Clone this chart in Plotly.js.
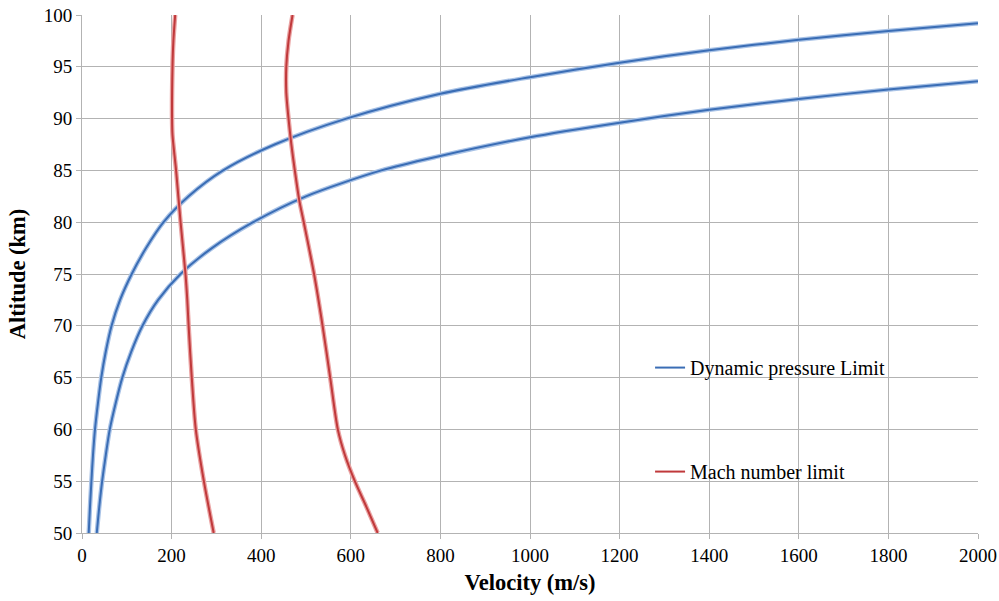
<!DOCTYPE html>
<html>
<head>
<meta charset="utf-8">
<script src="https://cdn.plot.ly/plotly-3.0.1.min.js"></script>
<style>
html,body{margin:0;padding:0;background:#fff;}
#chart{width:999px;height:601px;}
#chart .xtick text, #chart .ytick text {font-family: "Liberation Serif", serif !important;}
</style>
</head>
<body>
<div id="chart"></div>
<script>
// Dynamic pressure limit, curve 1 (upper/left)
const dp1Velocity = [15, 17.8, 21, 24.5, 29, 35.5, 43, 53, 66, 85, 111, 143, 182, 238, 315, 430, 590, 800, 1000, 1200, 1400, 1600, 1800, 2000];
const dp1Altitude = [50, 52.5, 55, 57.5, 60, 62.5, 65, 67.5, 70, 72.5, 75, 77.5, 80, 82.5, 85, 87.5, 90, 92.4, 94.0, 95.4, 96.6, 97.6, 98.45, 99.2];
// Dynamic pressure limit, curve 2 (lower/right)
const dp2Velocity = [33, 38.5, 45, 53, 62, 75, 90, 110, 135, 170, 220, 290, 382, 500, 668, 790, 1000, 1200, 1400, 1600, 1800, 2000];
const dp2Altitude = [50, 52.5, 55, 57.5, 60, 62.5, 65, 67.5, 70, 72.5, 75, 77.5, 80, 82.5, 85, 86.3, 88.2, 89.6, 90.85, 91.9, 92.8, 93.6];
// Mach number limit, curve 1 (left)
const m1Velocity = [294, 272, 254, 245, 238, 235, 231, 220, 210, 202, 201, 202, 204, 208];
const m1Altitude = [50, 55, 60, 65, 70, 72.5, 75, 80, 85, 88.4, 90, 95, 97.5, 100];
// Mach number limit, curve 2 (right)
const m2Velocity = [660, 635, 609, 587, 571, 554, 537, 518, 495, 485, 475, 467, 461, 456, 456, 461, 470];
const m2Altitude = [50, 52.5, 55, 57.5, 60, 65, 70, 75, 80, 82.1, 85, 87.6, 90, 92.5, 95, 97.5, 100];

const blueDark = '#3a6db5', blueLight = '#a8c2e6';
const redDark = '#c0393b', redLight = '#eaa3a3';
const serif = 'Liberation Serif';

function pair(x, y, dark, light, name, showLegend, group) {
  return [
    {x: x, y: y, mode: 'lines', line: {color: light, width: 4.5, shape: 'spline', smoothing: 0.8}, hoverinfo: 'skip',
     showlegend: false, legendgroup: group},
    {x: x, y: y, mode: 'lines', line: {color: dark, width: 2, shape: 'spline', smoothing: 0.8}, name: name,
     showlegend: showLegend, legendgroup: group}
  ];
}

const data = [].concat(
  pair(dp1Velocity, dp1Altitude, blueDark, blueLight, 'Dynamic pressure Limit', true, 'dp'),
  pair(dp2Velocity, dp2Altitude, blueDark, blueLight, 'Dynamic pressure Limit', false, 'dp'),
  pair(m1Velocity, m1Altitude, redDark, redLight, 'Mach number limit', true, 'm'),
  pair(m2Velocity, m2Altitude, redDark, redLight, 'Mach number limit', false, 'm')
);

const layout = {
  width: 999, height: 601,
  margin: {l: 82, r: 21, t: 15, b: 68},
  paper_bgcolor: '#fff', plot_bgcolor: '#fff',
  font: {family: serif, size: 19, color: '#000'},
  xaxis: {
    range: [0, 2000], dtick: 200, tick0: 0,
    tickfont: {family: serif, size: 19, color: '#000'},
    showgrid: true, gridcolor: '#b3b3b3', gridwidth: 1,
    showline: true, linecolor: '#b3b3b3', linewidth: 1,
    ticks: 'outside', ticklen: 5, tickcolor: '#b3b3b3',
    zeroline: false, fixedrange: true,
    title: {text: '<b>Velocity (m/s)</b>', font: {family: serif, size: 22.5}, standoff: 9}
  },
  yaxis: {
    range: [50, 100], dtick: 5, tick0: 50,
    tickfont: {family: serif, size: 19, color: '#000'},
    showgrid: true, gridcolor: '#b3b3b3', gridwidth: 1,
    showline: true, linecolor: '#b3b3b3', linewidth: 1,
    ticks: 'outside', ticklen: 5, tickcolor: '#b3b3b3',
    zeroline: false, fixedrange: true,
    title: {text: '<b>Altitude (km)</b>', font: {family: serif, size: 22.5}, standoff: 11}
  },
  showlegend: true,
  legend: {
    x: 0.634, y: 0.357, xanchor: 'left', yanchor: 'top',
    bgcolor: 'rgba(0,0,0,0)', borderwidth: 0,
    font: {family: serif, size: 20, color: '#000'}, tracegroupgap: 75, itemwidth: 30
  }
};

Plotly.newPlot('chart', data, layout, {displayModeBar: false, staticPlot: true});
</script>
</body>
</html>
